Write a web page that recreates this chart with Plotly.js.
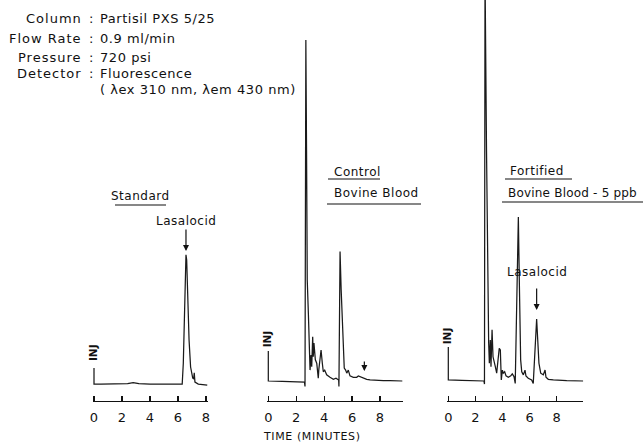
<!DOCTYPE html>
<html><head><meta charset="utf-8">
<script src="https://cdn.plot.ly/plotly-3.0.1.min.js"></script>
<style>html,body{margin:0;padding:0;background:#fff}#chart{width:643px;height:444px}</style>
</head><body><div id="chart"></div>
<script>
// ---------- data (time in minutes, detector response in arbitrary units) ----------
const tickValues = [0, 2, 4, 6, 8];
const tickLabels = ['0', '2', '4', '6', '8'];

const standardTime   = [0, 0, 0.5, 1.5, 2.4, 2.8, 3.2, 4.0, 5.0, 6.0, 6.3, 6.38, 6.5, 6.57, 6.62, 6.69, 6.79, 6.9, 7.05, 7.12, 7.16, 7.21, 7.45, 8.09];
const standardSignal = [3.8, -0.9, -0.9, -0.9, -0.8, -0.5, -0.8, -0.9, -0.9, -0.9, -0.9, 5.3, 29.6, 37.0, 35.5, 24.6, 12.0, 4.1, 0.9, 0.6, 2.4, -0.3, -0.9, -1.2];

const controlTime   = [0, 0, 1.0, 2.0, 2.59, 2.63, 2.69, 2.74, 2.79, 2.87, 2.94, 2.99, 3.06, 3.11, 3.18, 3.22, 3.27, 3.37, 3.47, 3.58, 3.62, 3.70, 3.78, 3.87, 3.94, 4.04, 4.18, 4.42, 4.66, 4.85, 4.97, 5.04, 5.06, 5.14, 5.22, 5.29, 5.37, 5.44, 5.54, 5.62, 5.73, 5.85, 6.09, 6.33, 6.45, 6.57, 6.81, 7.05, 7.29, 7.77, 8.24, 8.72, 9.6];
const controlSignal = [8.8, 0, -0.1, -0.2, -0.3, -1.6, 100, 67.7, 29.6, 19.9, 11.1, 3.2, 7.6, 4.2, 13.0, 7.1, 11.1, 6.2, 5.2, 0.8, 3.4, 7.1, 9.1, 5.2, 2.7, 3.2, 1.8, 1.1, 0.5, 0.8, 0.5, 0.3, -1.6, 38.0, 26.7, 17.9, 8.2, 3.8, 3.2, 2.3, 3.2, 1.5, 1.1, 1.1, 1.5, 1.3, 0.8, 0.5, 0.3, 0.1, 0.1, 0.1, 0];

const fortifiedTime   = [0, 0, 1.0, 2.0, 2.63, 2.67, 2.71, 2.82, 2.91, 2.95, 2.98, 3.03, 3.10, 3.15, 3.23, 3.30, 3.37, 3.47, 3.57, 3.67, 3.76, 3.84, 3.91, 3.99, 4.06, 4.16, 4.26, 4.43, 4.61, 4.72, 4.85, 4.94, 5.17, 5.24, 5.29, 5.34, 5.42, 5.54, 5.66, 5.73, 5.90, 6.15, 6.27, 6.40, 6.52, 6.60, 6.69, 6.82, 7.01, 7.14, 7.21, 7.38, 7.75, 8.74, 9.96];
const fortifiedSignal = [10.0, 0.3, 0.2, 0.1, 0, -0.9, 120, 67.7, 29.6, 19.9, 11.1, 5.2, 12.0, 4.2, 15.0, 7.1, 6.2, 4.2, 2.3, 6.2, 9.6, 9.1, 0.3, 3.2, 2.3, 2.7, 1.5, 1.1, 1.5, 2.1, 1.3, -0.7, 48.1, 29.6, 15.0, 6.2, 2.7, 1.8, 3.2, 1.5, 0.8, 0.3, -0.7, 8.2, 18.2, 12.0, 5.2, 2.3, 1.8, 3.2, 1.1, 0.5, 0.3, 0.1, 0];

const conditionLabels = ['Column', 'Flow Rate', 'Pressure', 'Detector', ''];
const conditionValues = ['Partisil PXS 5/25', '0.9 ml/min', '720 psi', 'Fluorescence', '( λex 310 nm, λem 430 nm)'];

const lasalocidStandardTime = 6.57, lasalocidStandardTop = 38.1;
const lasalocidControlTime = 6.88, lasalocidControlLevel = 2.9;
const lasalocidFortifiedTime = 6.52, lasalocidFortifiedTop = 20.8;

// ---------- layout geometry ----------
const W = 643, H = 444;
const fx = v => v / W, fy = v => 1 - v / H;
const axisPx = 401, basePx = 381, pxPerUnit = 3.41;
const yRange = [(basePx - axisPx) / pxPerUnit, basePx / pxPerUnit];
const ink = '#111';
function xAxisFor(zeroPx, pxPerMin, endMin) {
  const start = -0.1;
  return {
    domain: [(zeroPx + start * pxPerMin) / W, (zeroPx + endMin * pxPerMin) / W],
    range: [start, endMin], anchor: 'y',
    showline: true, linecolor: ink, linewidth: 1.3,
    ticks: 'inside', ticklen: 5, tickwidth: 1.2, tickcolor: ink,
    tickvals: tickValues, ticktext: tickLabels,
    tickfont: {family: 'DejaVu Sans', size: 13, color: ink},
    ticklabelstandoff: 4,
    showgrid: false, zeroline: false, fixedrange: true
  };
}
const headFont = {family: 'DejaVu Sans', size: 13, color: ink};
const font = {family: 'DejaVu Sans', size: 12, color: ink};
const sp = (t, s) => '<span style="letter-spacing:' + s + 'px">' + t + '</span>';
const lineStyle = {color: '#1a1a1a', width: 1.25};

const traces = [
  {x: standardTime, y: standardSignal, xaxis: 'x', yaxis: 'y', mode: 'lines', line: lineStyle, hoverinfo: 'skip'},
  {x: controlTime, y: controlSignal, xaxis: 'x2', yaxis: 'y', mode: 'lines', line: lineStyle, hoverinfo: 'skip'},
  {x: fortifiedTime, y: fortifiedSignal, xaxis: 'x3', yaxis: 'y', mode: 'lines', line: lineStyle, hoverinfo: 'skip'}
];

const rowsY = [18, 38, 57, 74, 89];
const annotations = [];
conditionLabels.forEach((lab, i) => {
  if (lab) {
    annotations.push({xref: 'paper', yref: 'paper', x: fx(84), y: fy(rowsY[i]), xanchor: 'right', yanchor: 'middle', text: sp(lab, 1), showarrow: false, font: headFont});
    annotations.push({xref: 'paper', yref: 'paper', x: fx(91), y: fy(rowsY[i]), xanchor: 'center', yanchor: 'middle', text: ':', showarrow: false, font: headFont});
  }
  annotations.push({xref: 'paper', yref: 'paper', x: fx(98), y: fy(rowsY[i]), xanchor: 'left', yanchor: 'middle', text: sp(conditionValues[i], 0.55), showarrow: false, font: headFont});
});
function label(text, xpx, ypx, anchor, s) {
  annotations.push({xref: 'paper', yref: 'paper', x: fx(xpx), y: fy(ypx), xanchor: anchor, yanchor: 'middle', text: sp(text, s), showarrow: false, font});
}
label('Standard', 140, 196, 'center', 0.5);
label('Control', 332, 172, 'left', 0.5);
label('Bovine Blood', 332, 193, 'left', 0.5);
label('Fortified', 508, 171, 'left', 0.5);
label('Bovine Blood - 5 ppb', 506, 193, 'left', 0.2);
annotations.push({xref: 'paper', yref: 'paper', x: fx(312), y: fy(436), xanchor: 'center', yanchor: 'middle', text: sp('TIME (MINUTES)', 0.6), showarrow: false, font: {family: 'DejaVu Sans', size: 11, color: ink}});

// INJ marks
[['x', 8.2], ['x2', 12.3], ['x3', 13.2]].forEach(([ax, yv]) => {
  annotations.push({xref: ax, yref: 'y', x: 0, y: yv, text: 'INJ', textangle: -90, showarrow: false, xshift: -1,
    font: {family: 'DejaVu Sans', size: 10.5, color: ink, weight: 'bold'}});
});
// Lasalocid arrows
const arrowBase = {showarrow: true, arrowhead: 2, arrowsize: 1, arrowwidth: 1.2, arrowcolor: ink, ax: 0, font};
annotations.push(Object.assign({}, arrowBase, {xref: 'x', yref: 'y', x: lasalocidStandardTime, y: lasalocidStandardTop, text: sp('Lasalocid', 0.5), ay: -30, startstandoff: 0}));
annotations.push(Object.assign({}, arrowBase, {xref: 'x2', yref: 'y', x: lasalocidControlTime, y: lasalocidControlLevel, text: ' ', ay: -18}));
annotations.push(Object.assign({}, arrowBase, {xref: 'x3', yref: 'y', x: lasalocidFortifiedTime, y: lasalocidFortifiedTop, text: sp('Lasalocid', 0.5), ay: -38, startstandoff: 8}));

const shapes = [
  [115, 166, 205], [328, 380, 179], [327, 421, 204], [505, 572, 179], [502, 643, 202]
].map(([x0, x1, y]) => ({type: 'line', xref: 'paper', yref: 'paper', x0: fx(x0), x1: fx(x1), y0: fy(y), y1: fy(y), line: {color: ink, width: 1.2}}));

const layout = {
  width: W, height: H, margin: {l: 0, r: 0, t: 0, b: 0},
  paper_bgcolor: '#fff', plot_bgcolor: 'rgba(0,0,0,0)', showlegend: false,
  xaxis: xAxisFor(94, 14.0, 8.14),
  xaxis2: xAxisFor(268.3, 13.96, 9.67),
  xaxis3: xAxisFor(448.3, 13.55, 9.96),
  yaxis: {domain: [(H - axisPx) / H, 1], range: yRange, visible: false, fixedrange: true, anchor: 'x'},
  annotations, shapes
};
Plotly.newPlot('chart', traces, layout, {staticPlot: true, displayModeBar: false});
</script></body></html>
